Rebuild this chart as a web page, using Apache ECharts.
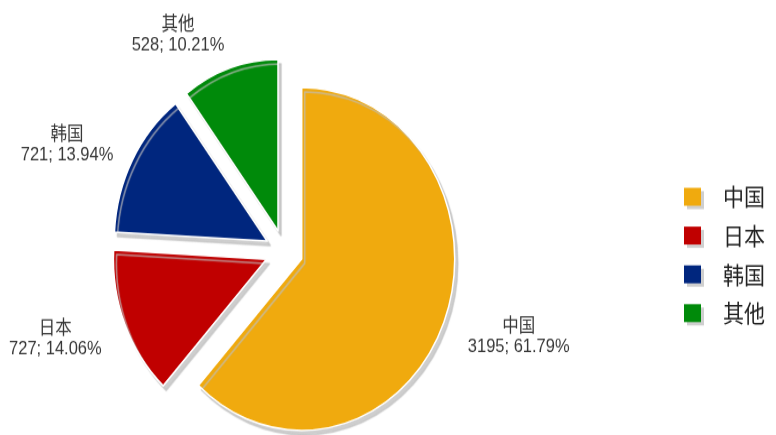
<!DOCTYPE html>
<html>
<head>
<meta charset="utf-8">
<script src="https://cdn.jsdelivr.net/npm/echarts@6/dist/echarts.min.js"></script>
<style>
html,body{margin:0;padding:0;background:#fff;overflow:hidden;}
#wrap{width:776px;height:435px;overflow:hidden;}
#chart{width:776px;height:388px;transform:scaleY(1.1211);transform-origin:0 0;}
</style>
</head>
<body>
<div id="wrap"><div id="chart"></div></div>
<script>
const categories = ['中国', '日本', '韩国', '其他'];
const values = [3195, 727, 721, 528];
const colors = ['#F0AA0E', '#C00000', '#00267E', '#008A0A'];
const labelLens = [39, 34, 28, 31];
const labelDists = [-12, -12, -9.4, -8];

const chart = echarts.init(document.getElementById('chart'));
const data = categories.map((name, i) => ({
  name: name,
  value: values[i],
  selected: true,
  itemStyle: { color: colors[i] },
  label: { distanceToLabelLine: labelDists[i] },
  labelLine: { show: false, length: labelLens[i], length2: 0 }
}));

chart.setOption({
  animation: false,
  legend: {
    orient: 'vertical',
    left: 679,
    top: 160,
    itemWidth: 17,
    itemHeight: 16,
    itemGap: 13.6,
    icon: 'rect',
    data: categories,
    itemStyle: {
      borderWidth: 0,
      shadowColor: 'rgba(160,160,160,0.5)',
      shadowOffsetX: 3,
      shadowOffsetY: 3,
      shadowBlur: 0
    },
    textStyle: {
      fontFamily: '"Noto Sans CJK SC", sans-serif',
      fontSize: 21,
      lineHeight: 21,
      color: '#222',
      padding: [0, 0, 0, 17]
    }
  },
  series: [{
    type: 'pie',
    center: [284, 224],
    radius: [0, 153],
    startAngle: 90,
    clockwise: true,
    selectedMode: 'multiple',
    selectedOffset: 19,
    avoidLabelOverlap: false,
    emphasis: { disabled: true },
    itemStyle: {
      borderColor: '#fff',
      borderWidth: 1.5,
      shadowColor: 'rgba(190,190,190,0.75)',
      shadowOffsetX: 3,
      shadowOffsetY: 4,
      shadowBlur: 1
    },
    label: {
      show: true,
      position: 'outside',
      formatter: '{a|{b}}\n{a|{c}; {d}%}',
      rich: {
        a: {
          width: 100,
          align: 'center',
          fontSize: 16.5,
          lineHeight: 18,
          color: '#383838',
          fontFamily: '"Liberation Sans", "Noto Sans CJK SC", sans-serif'
        }
      }
    },
    labelLine: { show: false },
    data: data
  }]
});
</script>
</body>
</html>
